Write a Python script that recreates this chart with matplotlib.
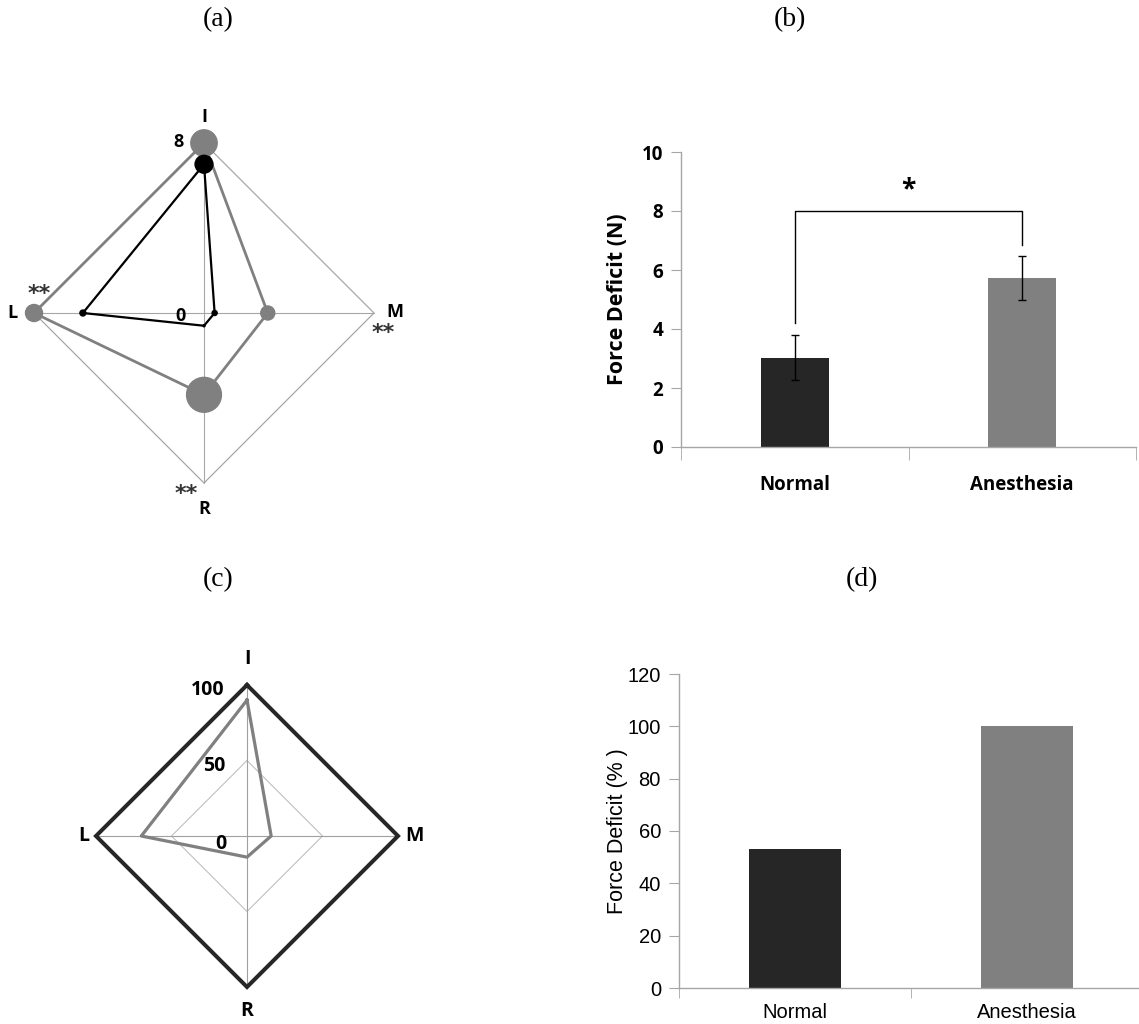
import numpy as np
import matplotlib
matplotlib.use("Agg")
import matplotlib.pyplot as plt
from matplotlib.patches import Circle

# radar axes order: I (top), M (right), R (bottom), L (left)
axes_names = ["I", "M", "R", "L"]
angles = np.deg2rad([90, 0, 270, 180])

# (a) mean force per finger, with spread shown as circle size
a_normal = [7.0, 0.5, 0.6, 5.7]
a_normal_sd = [0.42, 0.12, 0.05, 0.14]
a_anesth = [8.0, 3.0, 3.85, 8.0]
a_anesth_sd = [0.62, 0.33, 0.82, 0.4]
a_max = 8

# (b) force deficit (N)
groups = ["Normal", "Anesthesia"]
b_mean = [3.02, 5.73]
b_err = [0.76, 0.76]

# (c) relative values (%)
c_normal = [100, 100, 100, 100]
c_anesth = [90, 16, 14, 70]
c_levels = [50, 100]

# (d) force deficit (%)
d_vals = [53, 100]

W, H = 1139, 1024
fig = plt.figure(figsize=(W / 100, H / 100), dpi=100)
BOLD = "Open Sans"


def px_axes(left, top, width, height):
    return fig.add_axes([left / W, 1 - (top + height) / H, width / W, height / H])


def xy(vals):
    v = np.asarray(vals, dtype=float)
    x = v * np.cos(angles)
    y = v * np.sin(angles)
    return np.append(x, x[0]), np.append(y, y[0])


def radar_axes(left, top, width, height, cx, cy, scale):
    ax = px_axes(left, top, width, height)
    ax.set_xlim(-(cx - left) / scale, (left + width - cx) / scale)
    ax.set_ylim(-(top + height - cy) / scale, (cy - top) / scale)
    ax.axis("off")
    return ax


# ---------- (a) ----------
ax = radar_axes(0, 100, 420, 420, 204, 313, 170 / a_max)
ox, oy = xy([a_max] * 4)
ax.plot(ox, oy, color="#a6a6a6", lw=0.9, zorder=1)
ax.plot([0, 0], [-a_max, a_max], color="#a6a6a6", lw=0.8, zorder=1)
ax.plot([-a_max, a_max], [0, 0], color="#a6a6a6", lw=0.8, zorder=1)
gx, gy = xy(a_anesth)
ax.plot(gx, gy, color="#808080", lw=2.0, zorder=2)
for x, y, r in zip(gx[:-1], gy[:-1], a_anesth_sd):
    ax.add_patch(Circle((x, y), r, color="#808080", zorder=3))
nx, ny = xy(a_normal)
ax.plot(nx, ny, color="black", lw=1.6, zorder=4)
for x, y, r in zip(nx[:-1], ny[:-1], a_normal_sd):
    ax.add_patch(Circle((x, y), r, color="black", zorder=5))
lab = dict(fontsize=13, fontweight="bold", family=BOLD, ha="center", va="center")
ax.text(0, 9.2, "I", **lab)
ax.text(-9.0, 0, "L", **lab)
ax.text(9.0, 0.05, "M", **lab)
ax.text(0, -9.2, "R", **lab)
ax.text(-1.2, 8.05, "8", **lab)
ax.text(-1.1, -0.15, "0", **lab)
star = dict(fontsize=16, fontweight="bold", family="DejaVu Sans", ha="center",
            va="center", color="#333333")
ax.text(-7.75, 0.9, "**", **star)
ax.text(8.45, -0.95, "**", **star)
ax.text(-0.85, -8.5, "**", **star)

# ---------- (c) ----------
ax = radar_axes(80, 640, 360, 384, 247, 836, 151 / 100)
for lv in c_levels[:-1]:
    lx, ly = xy([lv] * 4)
    ax.plot(lx, ly, color="#c0c0c0", lw=0.8, zorder=1)
ax.plot([0, 0], [-100, 100], color="#a0a0a0", lw=0.8, zorder=1)
ax.plot([-100, 100], [0, 0], color="#a0a0a0", lw=0.8, zorder=1)
nx, ny = xy(c_normal)
ax.plot(nx, ny, color="#262626", lw=2.9, zorder=3, solid_joinstyle="miter")
gx, gy = xy(c_anesth)
ax.plot(gx, gy, color="#808080", lw=2.3, zorder=4)
lab = dict(fontsize=14, fontweight="bold", family=BOLD, ha="center", va="center")
ax.text(0, 117, "I", **lab)
ax.text(-108, 0, "L", **lab)
ax.text(111, 0, "M", **lab)
ax.text(0, -116, "R", **lab)
ax.text(-26, 97, "100", **lab)
ax.text(-22, 46.5, "50", **lab)
ax.text(-17, -5, "0", **lab)

# ---------- (b) ----------
ax = px_axes(681, 152, 455, 295)
xpos = np.arange(len(groups))
ax.bar(xpos, b_mean, width=0.3, color=["#262626", "#808080"], zorder=2)
ax.errorbar(xpos, b_mean, yerr=b_err, fmt="none", ecolor="black", elinewidth=1.0,
            capsize=3, capthick=1.0, zorder=3)
ax.plot([0, 0, 1, 1], [4.2, 8.0, 8.0, 6.85], color="black", lw=1.0)
ax.text(0.5, 8.25, "*", ha="center", va="bottom", fontsize=19, fontweight="bold", family=BOLD)
ax.set_xlim(-0.5, 1.5)
ax.set_ylim(0, 10)
ax.set_yticks(np.arange(0, 11, 2))
ax.set_xticks(xpos)
ax.set_xticklabels(groups)
ax.set_xticks([-0.5, 0.5, 1.5], minor=True)
ax.tick_params(axis="x", which="major", length=0, pad=20)
ax.tick_params(axis="x", which="minor", length=9, color="#a6a6a6", direction="out")
ax.tick_params(axis="y", length=7, color="#a6a6a6", direction="out", pad=6)
for t in ax.get_xticklabels() + ax.get_yticklabels():
    t.set_fontsize(13.5)
    t.set_fontweight("bold")
    t.set_family(BOLD)
ax.set_ylabel("Force Deficit (N)", fontsize=15.5, fontweight="bold", family=BOLD, labelpad=10)
for s in ["top", "right"]:
    ax.spines[s].set_visible(False)
for s in ["left", "bottom"]:
    ax.spines[s].set_color("#a6a6a6")
    ax.spines[s].set_linewidth(1.0)

# ---------- (d) ----------
ax = px_axes(679, 674, 460, 314)
ax.bar(xpos, d_vals, width=0.4, color=["#262626", "#808080"], zorder=2)
ax.set_xlim(-0.5, -0.5 + 460 / 232)
ax.set_ylim(0, 120)
ax.set_yticks(np.arange(0, 121, 20))
ax.set_xticks(xpos)
ax.set_xticklabels(groups)
ax.set_xticks([-0.5, 0.5], minor=True)
ax.tick_params(axis="x", which="major", length=0, pad=11)
ax.tick_params(axis="x", which="minor", length=7, color="#a6a6a6", direction="out")
ax.tick_params(axis="y", length=7, color="#a6a6a6", direction="out", pad=6)
for t in ax.get_xticklabels() + ax.get_yticklabels():
    t.set_fontsize(14.5)
    t.set_family("Liberation Sans")
ax.set_ylabel("Force Deficit (% )", fontsize=15.5, family="Liberation Sans", labelpad=0)
for s in ["top", "right"]:
    ax.spines[s].set_visible(False)
for s in ["left", "bottom"]:
    ax.spines[s].set_color("#a6a6a6")
    ax.spines[s].set_linewidth(1.0)

# panel titles
tt = dict(fontsize=20, family="Liberation Serif", ha="center", va="center")
fig.text(218 / W, 1 - 20 / H, "(a)", **tt)
fig.text(790 / W, 1 - 20 / H, "(b)", **tt)
fig.text(218 / W, 1 - 580 / H, "(c)", **tt)
fig.text(862 / W, 1 - 580 / H, "(d)", **tt)

fig.savefig("out.png", dpi=100)
